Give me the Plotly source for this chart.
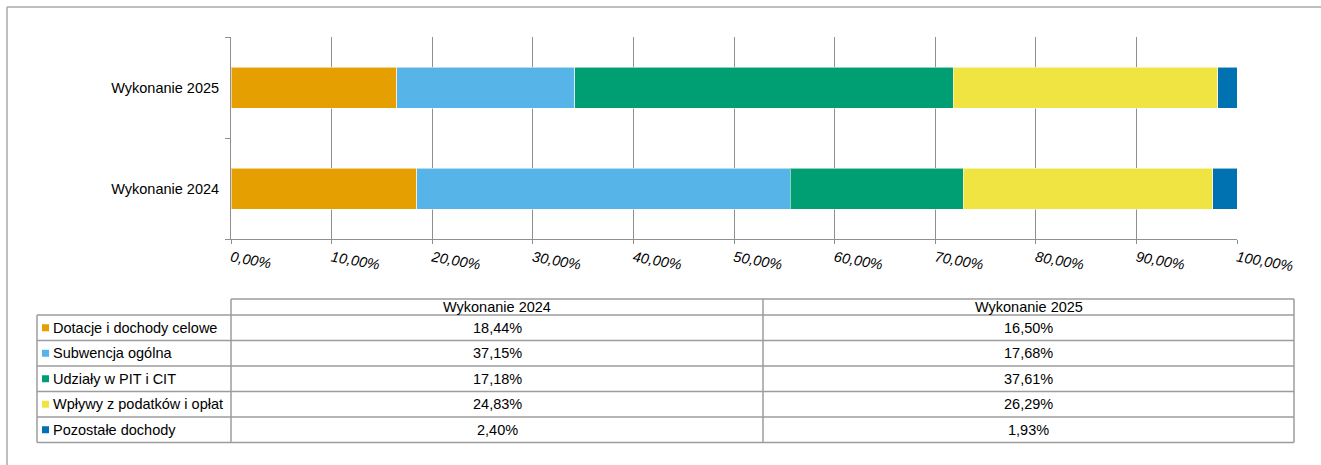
import plotly.graph_objects as go

# ---------------- data ----------------
categories = ["Wykonanie 2024", "Wykonanie 2025"]
series_names = [
    "Dotacje i dochody celowe",
    "Subwencja ogólna",
    "Udziały w PIT i CIT",
    "Wpływy z podatków i opłat",
    "Pozostałe dochody",
]
values_2024 = [18.44, 37.15, 17.18, 24.83, 2.40]
values_2025 = [16.50, 17.68, 37.61, 26.29, 1.93]
tick_values = [0, 10, 20, 30, 40, 50, 60, 70, 80, 90, 100]
tick_labels = ["0,00%", "10,00%", "20,00%", "30,00%", "40,00%", "50,00%",
               "60,00%", "70,00%", "80,00%", "90,00%", "100,00%"]

# ---------------- style ----------------
colors = ["#E69F00", "#56B4E9", "#009E73", "#F0E442", "#0072B2"]
W, H = 1321, 465
FONT = "Liberation Sans, Arial, sans-serif"
GRID = "#8f8f8f"
BORDER = "#9c9c9c"


def px(x):
    return x / W


def py(y):
    return 1 - y / H


def pct(v):
    return f"{v:.2f}".replace(".", ",") + "%"


fig = go.Figure()
series_by_cat = {categories[0]: values_2024, categories[1]: values_2025}
for i, name in enumerate(series_names):
    fig.add_trace(
        go.Bar(
            y=categories,
            x=[series_by_cat[c][i] for c in categories],
            name=name,
            orientation="h",
            marker=dict(color=colors[i], line=dict(color="rgba(255,255,255,0.55)", width=1)),
            showlegend=False,
        )
    )

# ---------------- table (below the chart) ----------------
col_edges = [37, 231, 763, 1294]
header_top, header_bottom = 299, 315
row_h = 25.5
row_edges = [header_bottom + k * row_h for k in range(len(series_names) + 1)]
table_bottom = row_edges[-1]

shapes = []
line = dict(color=BORDER, width=1.5)
frame = dict(color="#a8a8a8", width=1.5)
shapes.append(dict(type="line", xref="paper", yref="paper", x0=px(7), x1=1, y0=py(7), y1=py(7), line=frame))
shapes.append(dict(type="line", xref="paper", yref="paper", x0=px(7), x1=px(7), y0=py(7), y1=0, line=frame))
shapes.append(dict(type="line", xref="paper", yref="paper", x0=px(col_edges[1]), x1=px(col_edges[-1]),
                   y0=py(header_top), y1=py(header_top), line=line))
for ry in row_edges:
    shapes.append(dict(type="line", xref="paper", yref="paper", x0=px(col_edges[0]), x1=px(col_edges[-1]),
                       y0=py(ry), y1=py(ry), line=line))
shapes.append(dict(type="line", xref="paper", yref="paper", x0=px(col_edges[0]), x1=px(col_edges[0]),
                   y0=py(header_bottom), y1=py(table_bottom), line=line))
for cx in col_edges[1:]:
    shapes.append(dict(type="line", xref="paper", yref="paper", x0=px(cx), x1=px(cx),
                       y0=py(header_top), y1=py(table_bottom), line=line))

annotations = []
val_cols = [values_2024, values_2025]
for j, cat in enumerate(categories):
    cx = (col_edges[j + 1] + col_edges[j + 2]) / 2
    annotations.append(dict(xref="paper", yref="paper", x=px(cx), y=py((header_top + header_bottom) / 2),
                            text=cat, showarrow=False, xanchor="center", yanchor="middle",
                            font=dict(family=FONT, size=14.5, color="black")))
for i, name in enumerate(series_names):
    cy = (row_edges[i] + row_edges[i + 1]) / 2
    shapes.append(dict(type="rect", xref="paper", yref="paper", x0=px(42), x1=px(49),
                       y0=py(cy - 3.5), y1=py(cy + 3.5), fillcolor=colors[i], line=dict(width=0)))
    annotations.append(dict(xref="paper", yref="paper", x=px(51), y=py(cy), text=name, showarrow=False,
                            xanchor="left", yanchor="middle",
                            font=dict(family=FONT, size=14.5, color="black")))
    for j in range(len(categories)):
        cx = (col_edges[j + 1] + col_edges[j + 2]) / 2
        annotations.append(dict(xref="paper", yref="paper", x=px(cx), y=py(cy), text=pct(val_cols[j][i]),
                                showarrow=False, xanchor="center", yanchor="middle",
                                font=dict(family=FONT, size=14.5, color="black")))

fig.update_layout(
    width=W,
    height=H,
    autosize=False,
    margin=dict(l=0, r=0, t=0, b=0, pad=0),
    paper_bgcolor="white",
    plot_bgcolor="white",
    barmode="stack",
    bargap=0.594,
    font=dict(family=FONT, size=14.5, color="black"),
    xaxis=dict(
        domain=[px(231), px(1237)],
        range=[0, 100],
        tickmode="array",
        tickvals=tick_values,
        ticktext=tick_labels,
        tickangle=10,
        tickfont=dict(family=FONT, size=14.5, style="italic", color="black"),
        showgrid=True,
        gridcolor=GRID,
        gridwidth=1,
        zeroline=False,
        showline=True,
        linecolor=GRID,
        linewidth=1,
        ticks="outside",
        ticklen=4,
        tickcolor=GRID,
        automargin=False,
        fixedrange=True,
    ),
    yaxis=dict(
        domain=[py(239), py(37)],
        showgrid=False,
        zeroline=False,
        showline=True,
        linecolor=GRID,
        linewidth=1,
        ticks="outside",
        tickson="boundaries",
        ticklen=5,
        tickcolor=GRID,
        ticklabelstandoff=8,
        tickfont=dict(family=FONT, size=14.5, color="black"),
        automargin=False,
        fixedrange=True,
    ),
    shapes=shapes,
    annotations=annotations,
)

fig.write_html("out.html", config={"displayModeBar": False},
               post_script="document.body.style.margin='0';")
